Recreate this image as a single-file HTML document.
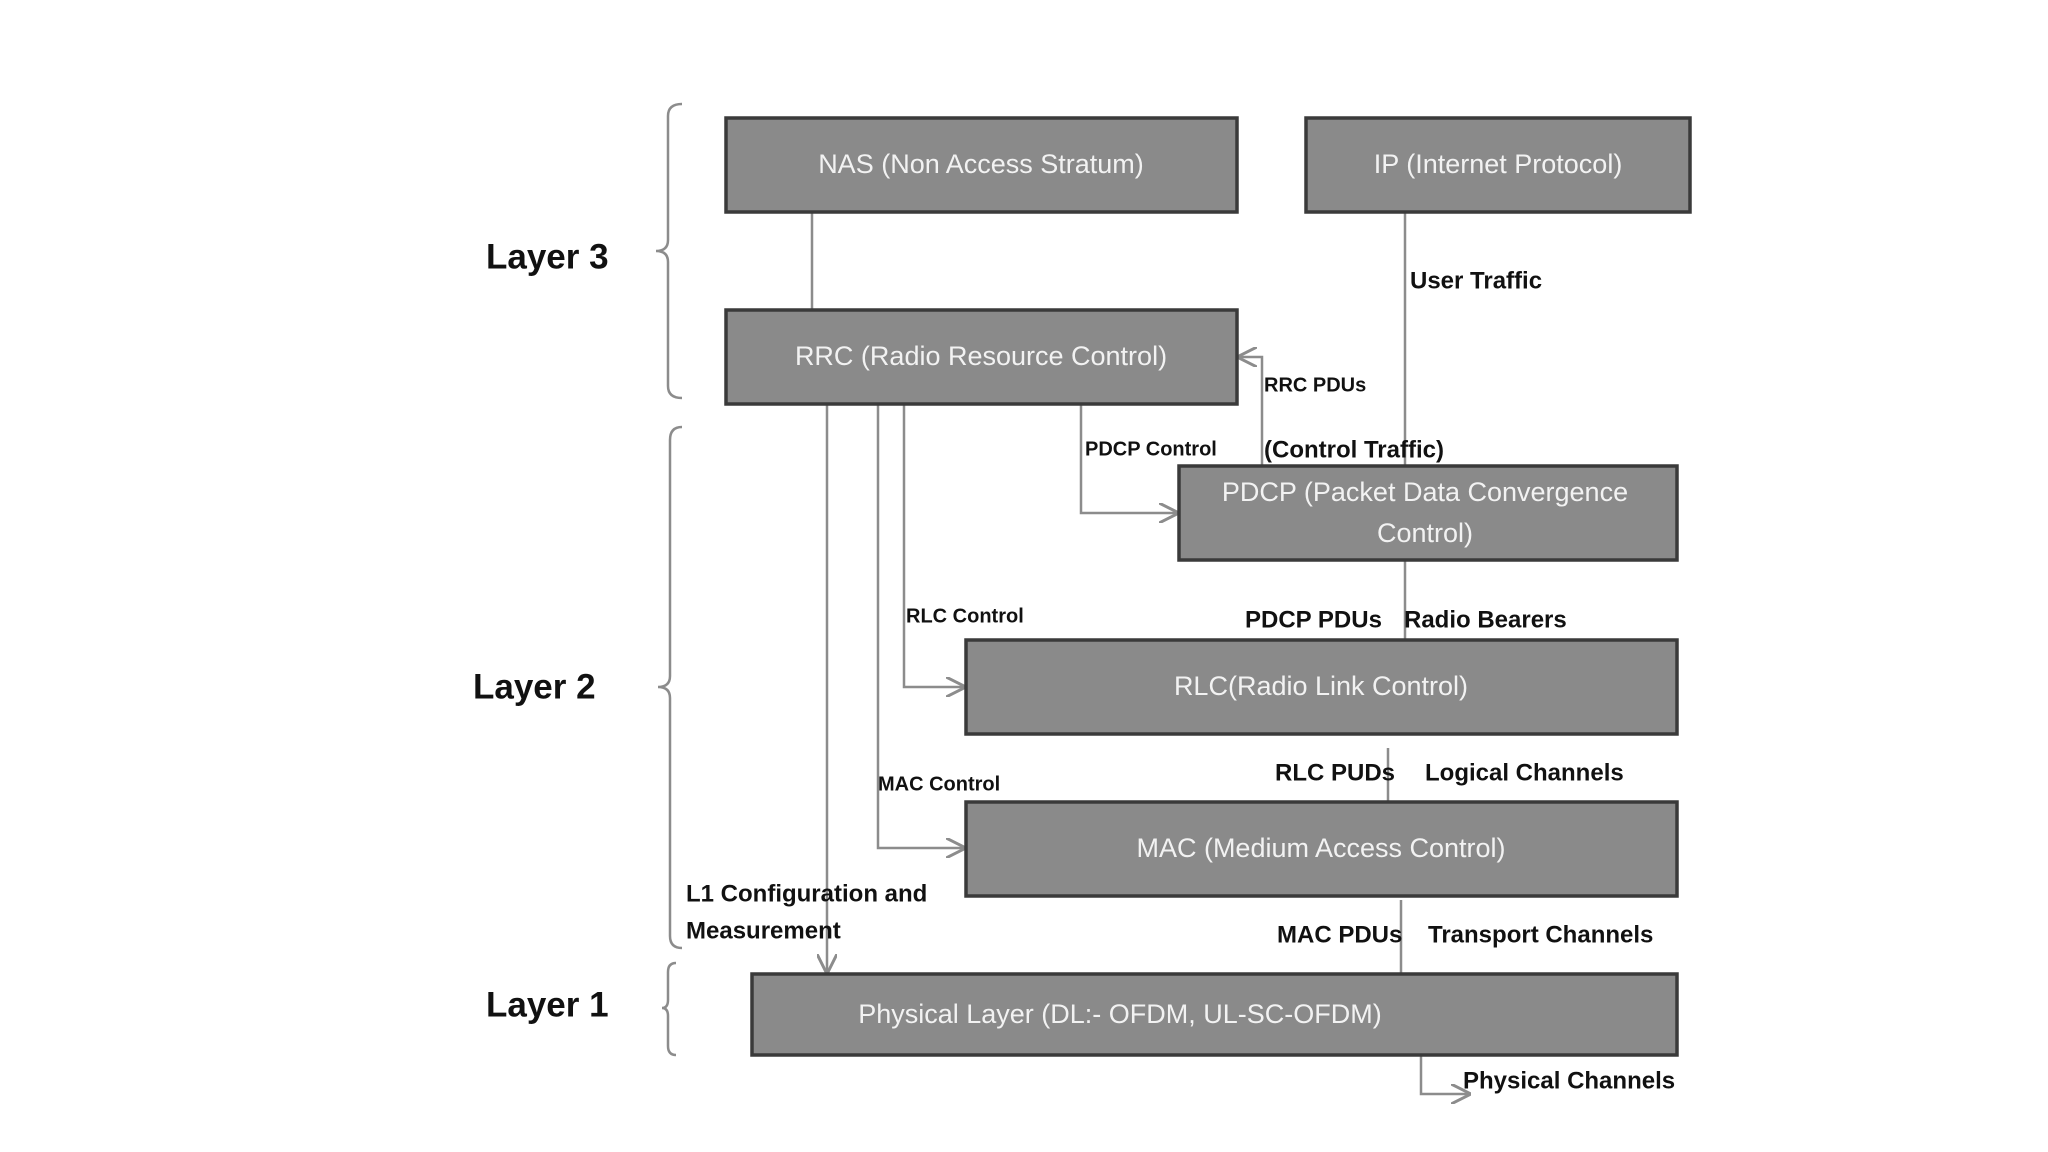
<!DOCTYPE html>
<html><head><meta charset="utf-8"><style>
html,body{margin:0;padding:0;background:#fff;}
svg{display:block;}
text{font-family:"Liberation Sans",sans-serif;}
.bx{fill:#8a8a8a;stroke:#3a3a3a;stroke-width:3.5;}
.bt{fill:#f2f2f2;font-size:27px;text-anchor:middle;dominant-baseline:middle;}
.ln{stroke:#8c8c8c;stroke-width:2.5;fill:none;}
.lb{fill:#111;font-size:24px;font-weight:bold;dominant-baseline:middle;}
.sm{fill:#111;font-size:20px;font-weight:bold;dominant-baseline:middle;}
.ly{fill:#111;font-size:35px;font-weight:bold;dominant-baseline:middle;}
</style></head><body>
<svg width="2048" height="1152" viewBox="0 0 2048 1152" xmlns="http://www.w3.org/2000/svg">
<defs><marker id="a" viewBox="0 0 10 10" refX="9" refY="5" markerWidth="8" markerHeight="8" orient="auto"><path d="M0,0 L10,5 L0,10" fill="none" stroke="#8c8c8c" stroke-width="1.5"/></marker></defs>
<line class="ln" x1="812" y1="212" x2="812" y2="310"/>
<line class="ln" x1="1405" y1="212" x2="1405" y2="466"/>
<line class="ln" x1="1405" y1="560" x2="1405" y2="640"/>
<polyline class="ln" points="1262,466 1262,357 1239,357" marker-end="url(#a)"/>
<polyline class="ln" points="1081,404 1081,513 1177,513" marker-end="url(#a)"/>
<polyline class="ln" points="904,404 904,687 964,687" marker-end="url(#a)"/>
<polyline class="ln" points="878,404 878,848 964,848" marker-end="url(#a)"/>
<line class="ln" x1="827" y1="404" x2="827" y2="972" marker-end="url(#a)"/>
<line class="ln" x1="1388" y1="748" x2="1388" y2="802"/>
<line class="ln" x1="1401" y1="900" x2="1401" y2="974"/>
<polyline class="ln" points="1421,1055 1421,1094 1469,1094" marker-end="url(#a)"/>
<path class="ln" d="M682,104 Q668,104 668,116 L668,240 Q668,251 656,251 Q668,251 668,262 L668,386 Q668,398 682,398"/>
<path class="ln" d="M682,427 Q670,427 670,440 L670,676 Q670,687 658,687 Q670,687 670,698 L670,936 Q670,948 682,948"/>
<path class="ln" d="M676,963 Q668,963 668,972 L668,1000 Q668,1008 662,1008 Q668,1008 668,1016 L668,1046 Q668,1055 676,1055"/>
<rect class="bx" x="726" y="118" width="511" height="94"/><text class="bt" x="981" y="166">NAS (Non Access Stratum)</text>
<rect class="bx" x="1306" y="118" width="384" height="94"/><text class="bt" x="1498" y="166">IP (Internet Protocol)</text>
<rect class="bx" x="726" y="310" width="511" height="94"/><text class="bt" x="981" y="358">RRC (Radio Resource Control)</text>
<rect class="bx" x="1179" y="466" width="498" height="94"/><text class="bt" x="1425" y="494">PDCP (Packet Data Convergence</text><text class="bt" x="1425" y="535">Control)</text>
<rect class="bx" x="966" y="640" width="711" height="94"/><text class="bt" x="1321" y="688">RLC(Radio Link Control)</text>
<rect class="bx" x="966" y="802" width="711" height="94"/><text class="bt" x="1321" y="850">MAC (Medium Access Control)</text>
<rect class="bx" x="752" y="974" width="925" height="81"/><text class="bt" x="1120" y="1016">Physical Layer (DL:- OFDM, UL-SC-OFDM)</text>
<text class="ly" x="486" y="259">Layer 3</text>
<text class="ly" x="473" y="689">Layer 2</text>
<text class="ly" x="486" y="1007">Layer 1</text>
<text class="lb" x="1410" y="282">User Traffic</text>
<text class="sm" x="1264" y="386">RRC PDUs</text>
<text class="sm" x="1085" y="450">PDCP Control</text>
<text class="lb" x="1264" y="451">(Control Traffic)</text>
<text class="lb" x="1245" y="621">PDCP PDUs</text>
<text class="lb" x="1404" y="621">Radio Bearers</text>
<text class="sm" x="906" y="617">RLC Control</text>
<text class="lb" x="1275" y="774">RLC PUDs</text>
<text class="lb" x="1425" y="774">Logical Channels</text>
<text class="sm" x="878" y="785">MAC Control</text>
<text class="lb" x="686" y="895">L1 Configuration and</text>
<text class="lb" x="686" y="932">Measurement</text>
<text class="lb" x="1277" y="936">MAC PDUs</text>
<text class="lb" x="1428" y="936">Transport Channels</text>
<text class="lb" x="1463" y="1082">Physical Channels</text>
</svg>
</body></html>
